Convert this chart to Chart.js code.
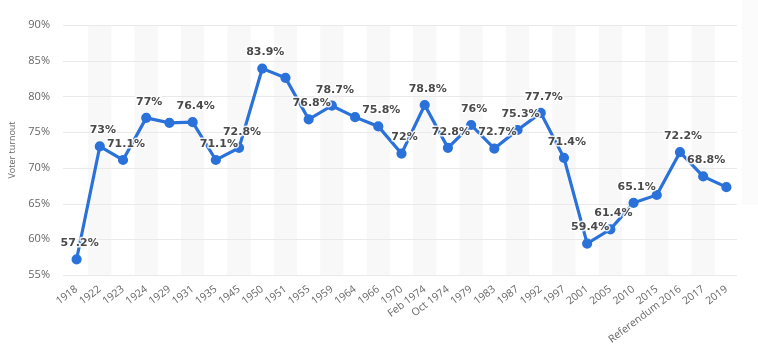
<!DOCTYPE html>
<html><head><meta charset="utf-8">
<script src="https://cdn.jsdelivr.net/npm/chart.js@4/dist/chart.umd.min.js"></script>
<style>
html,body{margin:0;padding:0;background:#fff;}
#wrap{position:relative;width:758px;height:349px;}
#side{position:absolute;left:742px;top:0;width:16px;height:205px;background:#fbfbfb;}
canvas{position:absolute;left:0;top:0;}
</style></head><body>
<div id="wrap"><div id="side"></div><canvas id="c" width="758" height="349"></canvas></div>
<script>
const categories = ["1918","1922","1923","1924","1929","1931","1935","1945","1950","1951","1955","1959","1964","1966","1970","Feb 1974","Oct 1974","1979","1983","1987","1992","1997","2001","2005","2010","2015","Referendum 2016","2017","2019"];
const turnout = [57.2,73,71.1,77,76.3,76.4,71.1,72.8,83.9,82.6,76.8,78.7,77.1,75.8,72,78.8,72.8,76,72.7,75.3,77.7,71.4,59.4,61.4,65.1,66.2,72.2,68.8,67.3];
const showLabel = [1,1,1,1,0,1,1,1,1,0,1,1,0,1,1,1,1,1,1,1,1,1,1,1,1,0,1,1,0];
const yTicks = [55,60,65,70,75,80,85,90];

const bands = {
  id:'bands',
  beforeDatasetsDraw(chart){
    const {ctx, chartArea:a, scales:{x}} = chart;
    const w = x.getPixelForValue(1) - x.getPixelForValue(0);
    ctx.save();
    ctx.fillStyle = '#f8f8f8';
    for(let i=1;i<categories.length;i+=2){
      const cx = x.getPixelForValue(i);
      ctx.fillRect(cx - w/2, a.top, w, a.bottom - a.top);
    }
    ctx.restore();
  }
};
const gridOver = {
  id:'gridOver',
  beforeDatasetsDraw(chart){
    const {ctx, chartArea:a, scales:{y}} = chart;
    ctx.save();
    ctx.strokeStyle = '#e9e9e9';
    ctx.lineWidth = 1;
    yTicks.forEach(v=>{
      const py = Math.round(y.getPixelForValue(v))+0.5;
      ctx.beginPath(); ctx.moveTo(a.left - 2, py); ctx.lineTo(a.right - 1, py); ctx.stroke();
    });
    ctx.restore();
  }
};
const labels = {
  id:'labels',
  afterDatasetsDraw(chart){
    const {ctx} = chart;
    const meta = chart.getDatasetMeta(0);
    ctx.save();
    ctx.font = 'bold 11px "DejaVu Sans"';
    ctx.textAlign = 'center';
    ctx.textBaseline = 'middle';
    ctx.lineJoin = 'round';
    meta.data.forEach((pt,i)=>{
      if(!showLabel[i]) return;
      const t = turnout[i] + '%';
      const px = pt.x + 3, py = pt.y - 16;
      ctx.strokeStyle = 'rgba(255,255,255,0.85)';
      ctx.lineWidth = 3;
      ctx.strokeText(t, px, py);
      ctx.fillStyle = '#4a4a4a';
      ctx.fillText(t, px, py);
    });
    ctx.restore();
  }
};

new Chart(document.getElementById('c'), {
  type:'line',
  data:{labels:categories, datasets:[{
    data:turnout, borderColor:'#2a72d9', backgroundColor:'#2a72d9',
    borderWidth:3.2, pointRadius:3.5, pointHoverRadius:3.5, tension:0, fill:false
  }]},
  options:{
    responsive:false, animation:false, events:[],
    layout:{padding:{top:25,right:20,left:0,bottom:0}},
    plugins:{legend:{display:false}, tooltip:{enabled:false}},
    scales:{
      x:{
        offset:true,
        grid:{display:false},
        border:{display:false},
        ticks:{color:'#666', font:{family:'"Open Sans"', size:10.5}, maxRotation:37, minRotation:37, autoSkip:false, padding:0},
        afterFit(s){ s.height = 74; }
      },
      y:{
        min:55, max:90,
        grid:{display:false, drawTicks:false},
        border:{display:false},
        afterBuildTicks(s){ s.ticks = yTicks.map(v=>({value:v})); },
        ticks:{color:'#666', font:{family:'"Open Sans"', size:11}, padding:15, callback:v=>v+'%'},
        title:{display:true, text:'Voter turnout', color:'#666', font:{family:'"Open Sans"', size:9}, padding:{top:7,bottom:4}},
        afterFit(s){ s.width = 65; }
      }
    }
  },
  plugins:[bands, gridOver, labels]
});
</script>
</body></html>
